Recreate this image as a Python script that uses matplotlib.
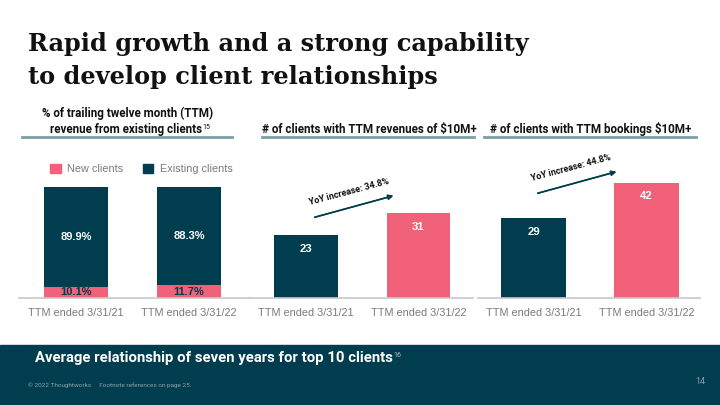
import matplotlib.pyplot as plt
from matplotlib.lines import Line2D
from matplotlib.patches import Rectangle, Patch

# data
periods = ['TTM ended 3/31/21', 'TTM ended 3/31/22']
new_clients_pct = [10.1, 11.7]
existing_clients_pct = [89.9, 88.3]
clients_revenue_10m = [23, 31]
clients_bookings_10m = [29, 42]
yoy_revenue = 'YoY increase: 34.8%'
yoy_bookings = 'YoY increase: 44.8%'

DARK = '#003d4f'
PINK = '#f2617a'
LINE = '#7c9fa6'
GREY = '#7a7a7a'

W, H = 720, 405
plt.rcParams['font.family'] = ['Roboto', 'DejaVu Sans']

fig = plt.figure(figsize=(7.2, 4.05), dpi=100)
fig.patch.set_facecolor('white')


def fx(x):
    return x / W


def fy(y):
    # y measured in pixels from the top
    return 1 - y / H


def axes_px(x0, x1, y_top, y_base):
    return fig.add_axes([fx(x0), fy(y_base), fx(x1 - x0), (y_base - y_top) / H])


def style_axes(ax):
    for s in ['top', 'right', 'left']:
        ax.spines[s].set_visible(False)
    ax.spines['bottom'].set_color('#c8c8c8')
    ax.spines['bottom'].set_linewidth(1.2)
    ax.set_yticks([])
    ax.tick_params(axis='x', length=0, pad=7)
    for t in ax.get_xticklabels():
        t.set_fontfamily('Liberation Sans')
        t.set_fontsize(7.8)
        t.set_color(GREY)
    ax.set_facecolor('none')


# title
for yy, line in [(51, 'Rapid growth and a strong capability'),
                 (84, 'to develop client relationships')]:
    fig.text(fx(28), fy(yy), line, fontsize=17.3, fontweight='bold',
             family='DejaVu Serif', va='baseline', color='#111111')

# panel headers
fig.text(fx(128), fy(113), '% of trailing twelve month (TTM)', ha='center', va='center',
         fontsize=8.4, fontweight='bold', color='#111111')
h1 = fig.text(fx(126), fy(130), 'revenue from existing clients', ha='center', va='center',
              fontsize=8.4, fontweight='bold', color='#111111')
fig.text(fx(369), fy(129), '# of clients with TTM revenues of $10M+', ha='center', va='center',
         fontsize=8.4, fontweight='bold', color='#111111')
fig.text(fx(591), fy(129), '# of clients with TTM bookings $10M+', ha='center', va='center',
         fontsize=8.4, fontweight='bold', color='#111111')
for x0, x1 in [(22, 232), (262, 474), (484, 696)]:
    fig.add_artist(Line2D([fx(x0), fx(x1)], [fy(137), fy(137)], color=LINE, lw=2))

# panel 1: stacked percentage bars
ax1 = axes_px(19, 250, 187, 298)
x = [0, 1]
ax1.bar(x, new_clients_pct, width=0.566, color=PINK)
ax1.bar(x, existing_clients_pct, width=0.566, bottom=new_clients_pct, color=DARK)
for i in x:
    ax1.text(i, new_clients_pct[i] / 2, f'{new_clients_pct[i]}%', ha='center', va='center',
             color=DARK, fontsize=8, fontweight='bold', family='Liberation Sans')
    ax1.text(i, new_clients_pct[i] + existing_clients_pct[i] / 2, f'{existing_clients_pct[i]}%',
             ha='center', va='center', color='white', fontsize=8, fontweight='bold',
             family='Liberation Sans')
ax1.set_xlim(-0.504, 1.54)
ax1.set_ylim(0, 100)
ax1.set_xticks(x)
ax1.set_xticklabels(periods)
style_axes(ax1)
handles = [Patch(color=PINK, label='New clients'), Patch(color=DARK, label='Existing clients')]
ax1.legend(handles=handles, loc='center', bbox_to_anchor=(0.53, 1.16), ncol=2, frameon=False,
           prop={'family': 'Liberation Sans', 'size': 7.8}, labelcolor=GREY,
           handlelength=0.95, handleheight=0.95, handletextpad=0.6, columnspacing=1.8)

# panel 2 and 3: client counts
ax2 = axes_px(250, 473, 160.5, 298)
ax3 = axes_px(478, 700, 160.5, 298)
for ax, vals, lim in [(ax2, clients_revenue_10m, (-0.498, 1.484)),
                      (ax3, clients_bookings_10m, (-0.491, 1.473))]:
    ax.bar(x, vals, width=0.568, color=[DARK, PINK])
    for i in x:
        ax.annotate(str(vals[i]), (i, vals[i]), xytext=(0, -10), textcoords='offset points',
                    ha='center', va='center', color='white', fontsize=8.2, fontweight='bold',
                    family='Liberation Sans')
    ax.set_xlim(*lim)
    ax.set_ylim(0, 50)
    ax.set_xticks(x)
    ax.set_xticklabels(periods)
    style_axes(ax)

# yoy arrows
for (x0, y0, x1, y1), (tx, ty), label in [((312, 218, 396, 195), (349, 192), yoy_revenue),
                                          ((535, 194, 619, 171), (571, 168), yoy_bookings)]:
    fig.add_artist(plt.annotate('', xy=(fx(x1), fy(y1)), xytext=(fx(x0), fy(y0)),
                                xycoords='figure fraction',
                                arrowprops=dict(arrowstyle='-|>', color=DARK, lw=1.1,
                                                mutation_scale=7)))
    fig.text(fx(tx), fy(ty), label, rotation=15, ha='center', va='center',
             fontsize=6.5, fontweight='bold', color='#111111', rotation_mode='anchor')

# bottom band
fig.add_artist(Rectangle((0, 0), 1, fy(345), transform=fig.transFigure, color=DARK, zorder=0))
band = fig.text(fx(35), fy(358), 'Average relationship of seven years for top 10 clients',
                va='center', fontsize=10.7, fontweight='bold', color='white')
fig.text(fx(28), fy(385), '\u00a9 2022 Thoughtworks     Footnote references on page 25.',
         va='center', fontsize=4.6, color='#8aa3aa')
fig.text(fx(705), fy(381), '14', va='center', ha='right', fontsize=6.5, color='#8aa3aa')

# superscripts
fig.canvas.draw()
r = fig.canvas.get_renderer()
bb = h1.get_window_extent(r)
fig.text((bb.x1 + 0.5) / W, (bb.y1 - 0.5) / H, '15', fontsize=5, color='#111111', va='top')
bb = band.get_window_extent(r)
fig.text((bb.x1 + 0.5) / W, (bb.y1 - 1) / H, '16', fontsize=5, color='#bbbbbb', va='top')

fig.savefig('out.png', dpi=100)
